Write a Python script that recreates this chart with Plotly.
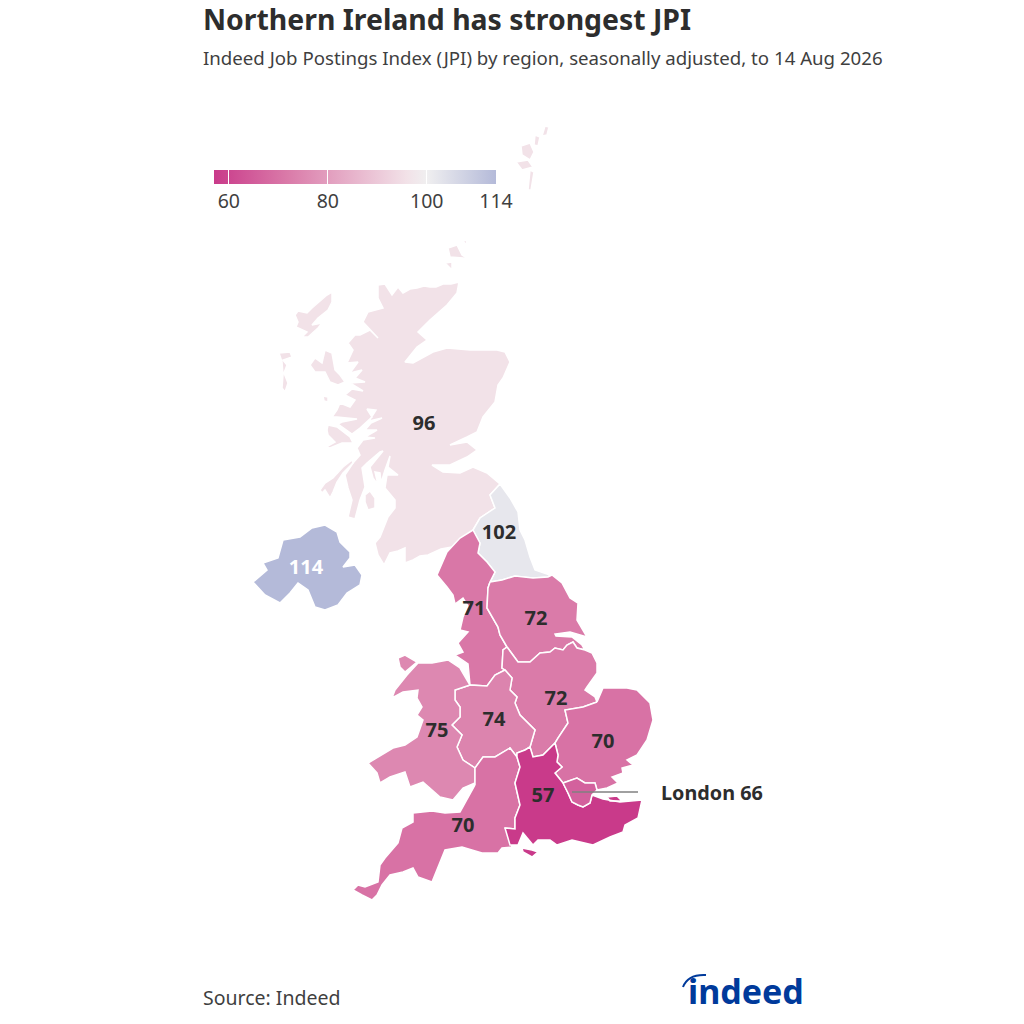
import plotly.graph_objects as go
from plotly.colors import sample_colorscale

# Region values
regions = ["Scotland", "North East", "Northern Ireland", "North West", "Yorkshire and the Humber",
           "East Midlands", "West Midlands", "Wales", "East of England", "South West", "South East", "London"]
values = [96, 102, 114, 71, 72, 72, 74, 75, 70, 70, 57, 66]

# Colour scale
cmin = 57
cmax = 114
tick_vals = [60, 80, 100, 114]
colorscale = [[0, "#c93a8a"], [15 / 57, "#da7ba9"], [39 / 57, "#f2e2e8"], [43 / 57, "#f0eff0"], [1, "#b4bad9"]]

scotland = [
    [(459, 282), (451, 284), (443, 284), (436, 287), (430, 287), (424, 286), (417, 288), (410, 289), (403, 293),
     (398, 287), (392, 295), (385, 284), (378, 285), (378, 298), (383, 308), (368, 312), (363, 322), (378, 338),
     (370, 330), (360, 335), (355, 335), (348, 343), (353, 350), (347, 363), (358, 362), (350, 373), (362, 370),
     (355, 378), (365, 382), (350, 383), (353, 385), (363, 391), (352, 389), (345, 395), (355, 400), (350, 407),
     (340, 403), (337, 410), (332, 417), (337, 417), (357, 419), (342, 422), (338, 424), (352, 434), (360, 428),
     (372, 417), (367, 409), (376, 410), (369, 421), (382, 418), (371, 423), (365, 430), (377, 430), (365, 437),
     (375, 438), (363, 440), (357, 448), (360, 455), (353, 463), (345, 475), (348, 488), (352, 500), (348, 517),
     (355, 519), (360, 500), (365, 487), (362, 468), (367, 463), (380, 452), (383, 451), (370, 467), (373, 478),
     (378, 485), (375, 472), (380, 473), (381, 483), (385, 470), (390, 456), (388, 467), (398, 475), (387, 475),
     (385, 488), (395, 500), (395, 508), (388, 517), (380, 537), (375, 543), (378, 555), (384, 565), (390, 553),
     (398, 551), (405, 548), (405, 563), (413, 560), (420, 556), (428, 555), (441, 549), (452, 547), (462, 538),
     (473, 530), (480, 518), (495, 508), (490, 495), (500, 484), (487, 473), (473, 467), (460, 473), (443, 472),
     (432, 465), (450, 465), (467, 457), (477, 450), (467, 442), (450, 445), (467, 437), (477, 432), (483, 417),
     (495, 402), (498, 385), (503, 378), (510, 362), (505, 352), (497, 350), (470, 350), (447, 348), (433, 352),
     (413, 363), (405, 362), (417, 347), (427, 340), (418, 332), (430, 320), (447, 305), (457, 293)],
    [(310, 365), (315, 358), (322, 363), (325, 350), (332, 353), (335, 370), (340, 375), (345, 382), (338, 385),
     (330, 382), (325, 372), (315, 372)],
    [(332, 292), (327, 295), (312, 308), (307, 313), (298, 311), (295, 315), (298, 322), (296, 327), (307, 332),
     (302, 337), (308, 337), (318, 328), (322, 323), (312, 325), (318, 318), (328, 310), (332, 302)],
    [(279, 353), (290, 352), (292, 357), (283, 360), (287, 365), (284, 373), (288, 383), (285, 392), (282, 388),
     (283, 375), (282, 362), (280, 357)],
    [(448, 248), (457, 245), (462, 255), (470, 260), (463, 258), (450, 257)],
    [(445, 263), (452, 262), (452, 270)],
    [(463, 241), (467, 240), (466, 245)],
    [(545, 126), (549, 127), (547, 135), (542, 136)],
    [(535, 135), (540, 137), (538, 146), (534, 145)],
    [(521, 146), (530, 143), (534, 152), (530, 160), (522, 155)],
    [(516, 162), (528, 160), (533, 167), (522, 170)],
    [(530, 170), (534, 172), (531, 190), (528, 190)],
    [(365, 495), (370, 491), (375, 498), (375, 508), (368, 510), (365, 502)],
    [(320, 490), (325, 483), (333, 478), (343, 467), (352, 460), (353, 463), (343, 473), (337, 482), (333, 492),
     (330, 498), (325, 490), (322, 493)],
    [(328, 425), (337, 427), (350, 437), (353, 443), (342, 443), (330, 448), (326, 447), (335, 442), (328, 435),
     (327, 430)],
    [(323, 396), (328, 397), (328, 402), (324, 401)],
]
north_east = [[(500, 484), (510, 498), (518, 512), (520, 530), (525, 540), (530, 557), (535, 570), (550, 575),
               (548, 577), (533, 578), (522, 577), (515, 576), (502, 580), (490, 582), (495, 572), (487, 562),
               (478, 553), (480, 543), (473, 530), (480, 518), (495, 508), (490, 495)]]
northern_ireland = [[(325, 525), (337, 532), (340, 542), (350, 552), (350, 558), (343, 567), (355, 565), (362, 575),
                     (360, 585), (347, 593), (338, 605), (325, 610), (315, 607), (308, 590), (298, 583), (290, 593),
                     (280, 603), (265, 595), (253, 582), (267, 570), (263, 563), (278, 558), (283, 540), (300, 537),
                     (312, 528)]]
north_west = [[(473, 530), (460, 538), (447, 552), (437, 575), (447, 587), (453, 595), (455, 604), (463, 598),
               (468, 606), (463, 617), (460, 630), (468, 632), (458, 643), (463, 652), (455, 655), (468, 664),
               (470, 685), (487, 686), (495, 675), (505, 670), (502, 668), (503, 657), (503, 650), (507, 647),
               (500, 635), (498, 627), (487, 608), (488, 588), (490, 582), (495, 572), (487, 562), (478, 553),
               (480, 543)]]
yorkshire = [[(490, 582), (502, 580), (515, 576), (522, 577), (533, 578), (548, 577), (552, 575), (562, 583),
              (570, 598), (578, 603), (577, 620), (587, 637), (570, 632), (555, 634), (556, 636), (572, 637),
              (582, 645), (585, 650), (577, 648), (573, 642), (567, 645), (563, 650), (555, 648), (550, 652),
              (540, 653), (530, 662), (518, 662), (507, 647), (500, 635), (498, 627), (487, 608), (488, 588)]]
east_midlands = [[(507, 647), (518, 662), (530, 662), (540, 653), (550, 652), (555, 648), (563, 650), (567, 645),
                  (573, 642), (577, 648), (585, 650), (592, 653), (597, 663), (597, 673), (587, 687), (585, 690),
                  (595, 697), (597, 702), (583, 707), (565, 710), (568, 723), (558, 738), (555, 743), (543, 755),
                  (533, 757), (530, 747), (535, 730), (520, 715), (515, 703), (517, 697), (510, 690), (512, 678),
                  (505, 670), (502, 668), (503, 657), (503, 650)]]
west_midlands = [[(470, 685), (487, 686), (495, 675), (505, 670), (512, 678), (510, 690), (517, 697), (515, 703),
                  (520, 715), (535, 730), (530, 747), (525, 750), (517, 753), (517, 757), (510, 748), (495, 757),
                  (490, 757), (483, 757), (475, 768), (463, 760), (457, 747), (462, 735), (452, 725), (460, 717),
                  (460, 707), (455, 700), (455, 690), (465, 687)]]
wales = [
    [(448, 660), (432, 663), (418, 663), (407, 675), (395, 690), (392, 698), (403, 692), (418, 690), (417, 698),
     (422, 707), (417, 715), (423, 720), (417, 737), (405, 745), (393, 748), (378, 757), (368, 763), (377, 773),
     (380, 783), (390, 777), (405, 772), (410, 787), (423, 782), (440, 797), (453, 800), (463, 788), (475, 783),
     (475, 768), (463, 760), (457, 747), (462, 735), (452, 725), (460, 717), (460, 707), (455, 700), (455, 690),
     (465, 687), (470, 685), (467, 680), (460, 668)],
    [(398, 658), (405, 655), (417, 662), (405, 672), (400, 667)],
]
east_england = [[(597, 702), (603, 688), (627, 688), (637, 690), (650, 703), (653, 720), (647, 740), (637, 755),
                 (627, 760), (633, 765), (622, 768), (623, 773), (612, 777), (618, 783), (607, 788), (597, 790),
                 (595, 783), (585, 783), (577, 778), (563, 783), (555, 773), (562, 767), (557, 762), (558, 755),
                 (555, 743), (558, 738), (568, 723), (565, 710), (583, 707)]]
south_west = [[(475, 785), (460, 812), (445, 813), (432, 811), (413, 813), (413, 822), (402, 828), (398, 843),
               (385, 858), (380, 865), (378, 882), (365, 887), (358, 885), (353, 890), (362, 895), (372, 900),
               (377, 895), (382, 885), (390, 875), (403, 872), (413, 868), (418, 877), (432, 882), (438, 867),
               (445, 850), (462, 847), (482, 853), (498, 853), (502, 848), (512, 847), (508, 832), (505, 828),
               (515, 829), (515, 818), (520, 805), (515, 783), (520, 767), (517, 757), (510, 748), (495, 757),
               (490, 757), (483, 757), (475, 768)]]
south_east = [
    [(517, 757), (520, 767), (515, 783), (520, 805), (515, 818), (515, 829), (505, 828), (508, 840), (510, 845),
     (518, 845), (523, 833), (533, 845), (538, 840), (550, 840), (557, 845), (572, 840), (593, 845), (610, 837),
     (623, 832), (625, 825), (638, 818), (642, 800), (620, 802), (603, 799), (592, 795), (590, 803), (583, 807),
     (578, 805), (572, 802), (568, 793), (563, 783), (555, 773), (562, 767), (557, 762), (558, 755), (555, 743),
     (543, 755), (533, 757), (530, 747), (525, 750), (517, 753)],
    [(522, 848), (532, 850), (538, 852), (532, 857), (523, 852)],
    [(607, 797), (617, 796), (622, 801), (610, 801)],
]
london = [[(563, 783), (577, 778), (585, 783), (595, 783), (597, 790), (592, 795), (590, 803), (583, 807), (578, 805),
           (572, 802), (568, 793)]]

outlines = [scotland, north_east, northern_ireland, north_west, yorkshire, east_midlands, west_midlands, wales,
            east_england, south_west, south_east, london]

# Where the value labels sit
label_x = [424, 499, 306, 474, 536, 556, 494, 437, 603, 463, 543]
label_y = [425, 534, 569, 610, 620, 700, 721, 732, 743, 827, 797]

data = []
for name, value, parts in zip(regions, values, outlines):
    xs, ys = [], []
    for part in parts:
        xs += [p[0] for p in part] + [part[0][0], None]
        ys += [p[1] for p in part] + [part[0][1], None]
    colour = sample_colorscale(colorscale, (value - cmin) / (cmax - cmin))[0]
    data.append(go.Scatter(x=xs, y=ys, mode='lines', fill='toself', fillcolor=colour, name=name,
                           line=dict(color='white', width=1.5), hoverinfo='name'))

# Value labels, white on the blue region
label_colours = ['white' if v == 114 else '#2d2d2d' for v in values[:11]]
data.append(go.Scatter(x=label_x, y=label_y, mode='text', text=[str(v) for v in values[:11]], hoverinfo='skip',
                       textfont=dict(family='Noto Sans', size=20, color=label_colours, weight='bold')))

# London callout
data.append(go.Scatter(x=[572, 638], y=[792, 792], mode='lines', line=dict(color='#808080', width=1.5),
                       hoverinfo='skip'))

# Invisible trace that carries the colour bar
data.append(go.Scatter(x=[None, None], y=[None, None], mode='markers', hoverinfo='skip',
                       marker=dict(color=[cmin, cmax], colorscale=colorscale, cmin=cmin, cmax=cmax, showscale=True,
                                   colorbar=dict(orientation='h', x=214 / 1024, xanchor='left', y=1 - 170 / 1024,
                                                 yanchor='top', lenmode='pixels', len=282, thickness=14,
                                                 thicknessmode='pixels', xpad=0, ypad=0, outlinewidth=0,
                                                 borderwidth=0, tickmode='array', tickvals=tick_vals,
                                                 ticks='inside', ticklen=14, tickcolor='white', tickwidth=1,
                                                 tickfont=dict(family='Noto Sans', size=19.5, color='#3f3f3f')))))

layout = go.Layout(
    width=1024, height=1024, margin=dict(l=0, r=0, t=0, b=0, autoexpand=False), showlegend=False,
    paper_bgcolor='white', plot_bgcolor='white', font=dict(family='Noto Sans', color='#2d2d2d'),
    xaxis=dict(range=[0, 1024], visible=False, fixedrange=True),
    yaxis=dict(range=[1024, 0], visible=False, fixedrange=True),
    annotations=[
        dict(x=201, y=18.5, xref='x', yref='y', xanchor='left', yanchor='middle', showarrow=False,
             text='<b>Northern Ireland has strongest JPI</b>', font=dict(size=28.4, color='#2d2d2d')),
        dict(x=201, y=57, xref='x', yref='y', xanchor='left', yanchor='middle', showarrow=False,
             text='Indeed Job Postings Index (JPI) by region, seasonally adjusted, to 14 Aug 2026',
             font=dict(size=18.66, color='#3f3f3f')),
        dict(x=659, y=792, xref='x', yref='y', xanchor='left', yanchor='middle', showarrow=False,
             text='<b>London %d</b>' % values[11], font=dict(size=19.8, color='#2d2d2d')),
        dict(x=201, y=997, xref='x', yref='y', xanchor='left', yanchor='middle', showarrow=False,
             text='Source: Indeed', font=dict(size=19.5, color='#3f3f3f')),
        dict(x=686, y=991, xref='x', yref='y', xanchor='left', yanchor='middle', showarrow=False,
             text='<b>indeed</b>', font=dict(size=34, color='#003a9b')),
    ],
    shapes=[dict(type='path', xref='x', yref='y', path='M 683 987 Q 688 974 706 975',
                 line=dict(color='#003a9b', width=2))],
)

fig = go.Figure(data=data, layout=layout)
# Drop the page's default body margin so the picture starts at the corner
fig.write_html("out.html", config={'displayModeBar': False}, post_script="document.body.style.margin='0';")
